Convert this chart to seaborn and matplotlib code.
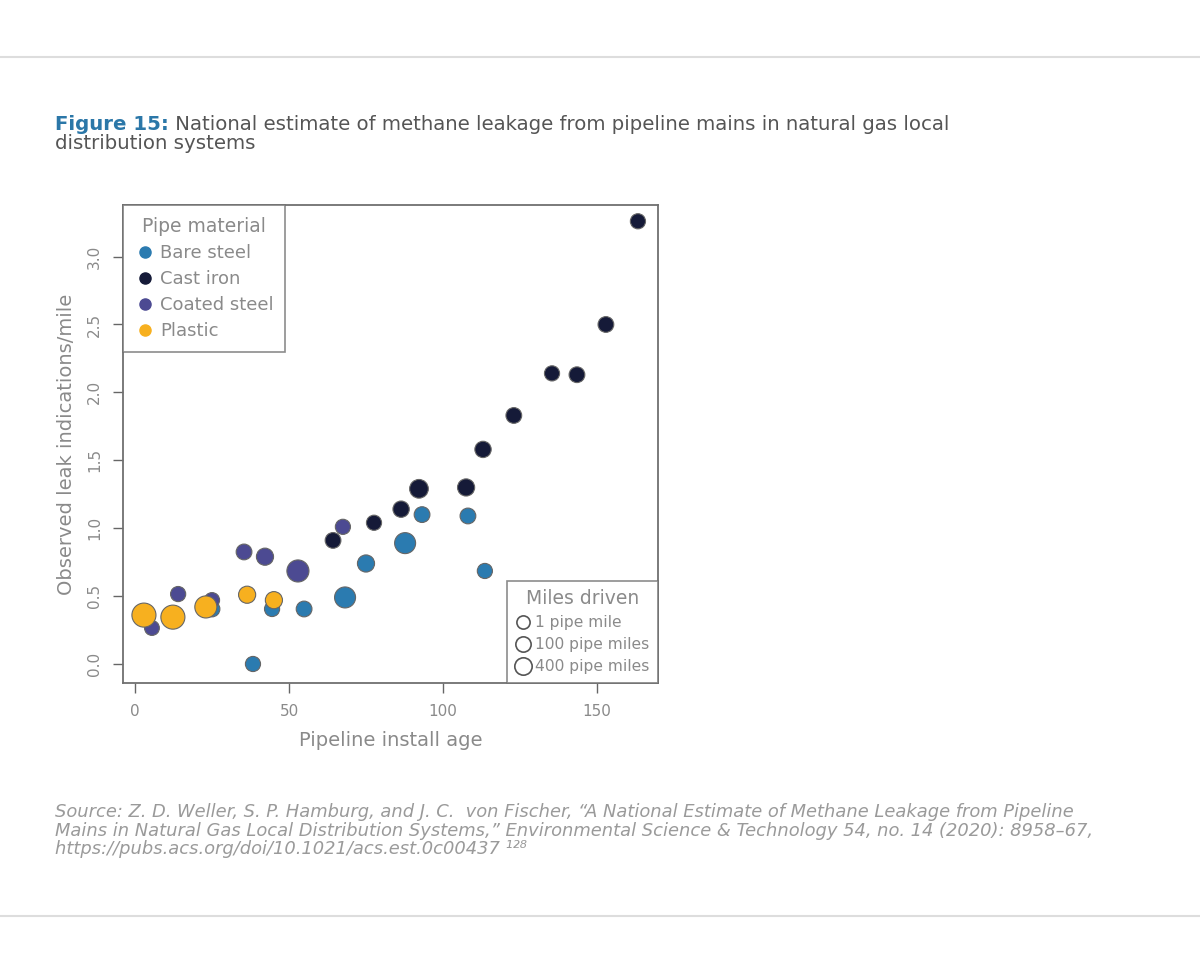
import numpy as np
import pandas as pd
import seaborn as sns
from matplotlib import pyplot as plt
from matplotlib.lines import Line2D

# values
bare_age = [93.2, 108.1, 87.7, 75.0, 113.6, 68.2, 54.9, 44.5, 25.0, 38.3]
bare_leak = [1.10, 1.09, 0.89, 0.74, 0.685, 0.49, 0.405, 0.405, 0.405, 0.0]
bare_miles = [40, 40, 250, 90, 20, 250, 40, 20, 40, 20]

cast_age = [163.3, 152.9, 135.4, 143.5, 123.0, 113.0, 107.5, 92.2, 86.4, 77.6, 64.3]
cast_leak = [3.26, 2.50, 2.14, 2.13, 1.83, 1.58, 1.30, 1.29, 1.14, 1.04, 0.91]
cast_miles = [20, 40, 20, 40, 40, 60, 90, 150, 60, 20, 40]

coat_age = [67.5, 35.4, 42.2, 52.9, 14.0, 25.0, 5.5]
coat_leak = [1.01, 0.825, 0.79, 0.685, 0.515, 0.47, 0.265]
coat_miles = [20, 40, 90, 300, 20, 20, 10]

plast_age = [2.9, 12.3, 23.0, 36.4, 45.1]
plast_leak = [0.36, 0.345, 0.42, 0.51, 0.47]
plast_miles = [400, 400, 300, 90, 90]

materials = ["Bare steel", "Cast iron", "Coated steel", "Plastic"]
colors = ["#2b7bb0", "#151a38", "#4c4a92", "#f7b01f"]
size_labels = ["1 pipe mile", "100 pipe miles", "400 pipe miles"]

df = pd.concat([
    pd.DataFrame({"age": bare_age, "leak": bare_leak, "miles": bare_miles, "material": "Bare steel"}),
    pd.DataFrame({"age": cast_age, "leak": cast_leak, "miles": cast_miles, "material": "Cast iron"}),
    pd.DataFrame({"age": coat_age, "leak": coat_leak, "miles": coat_miles, "material": "Coated steel"}),
    pd.DataFrame({"age": plast_age, "leak": plast_leak, "miles": plast_miles, "material": "Plastic"}),
], ignore_index=True)

sns.set_style("white")
plt.rcParams["font.family"] = ["DejaVu Sans"]
grey = "#8a8a8a"

fig = plt.figure(figsize=(12, 9.71), dpi=100)
ax = fig.add_axes([0.1025, 0.2966, 0.4458, 0.4923])

sns.scatterplot(data=df, x="age", y="leak", hue="material", size="miles",
                palette=dict(zip(materials, colors)), sizes=(110, 300), size_norm=(1, 400),
                edgecolor="#666666", linewidth=0.8, legend=False, ax=ax)

ax.set_xlim(-3.9, 169.8)
ax.set_ylim(-0.14, 3.38)
ax.set_xticks([0, 50, 100, 150])
ax.set_yticks([0, 0.5, 1.0, 1.5, 2.0, 2.5, 3.0])
ax.set_yticklabels(["0.0", "0.5", "1.0", "1.5", "2.0", "2.5", "3.0"], rotation=90, va="center")
ax.tick_params(axis="both", direction="out", length=7, width=1, color="#666666",
               labelcolor=grey, labelsize=11, pad=8, bottom=True, left=True)
for s in ax.spines.values():
    s.set_color("#707070")
    s.set_linewidth(1.3)
ax.set_xlabel("Pipeline install age", fontsize=14, color=grey, labelpad=9)
ax.set_ylabel("Observed leak indications/mile", fontsize=14, color=grey, labelpad=8)

h1 = [Line2D([], [], marker="o", ls="", markersize=8, markerfacecolor=c, markeredgecolor=c)
      for c in colors]
leg1 = ax.legend(h1, materials, title="Pipe material", loc="upper left", frameon=True,
                 fancybox=False, edgecolor="#707070", fontsize=13, title_fontsize=13.5,
                 borderaxespad=0, handletextpad=0.3, labelspacing=0.45, borderpad=0.65,
                 handlelength=1.1)
leg1.get_frame().set_linewidth(1.2)
for t in leg1.get_texts():
    t.set_color(grey)
leg1.get_title().set_color(grey)
ax.add_artist(leg1)

h2 = [Line2D([], [], marker="o", ls="", markersize=m, markerfacecolor="white",
             markeredgecolor="#555555", markeredgewidth=1.2) for m in [9.5, 11, 12.5]]
leg2 = ax.legend(h2, size_labels, title="Miles driven", loc="lower right", frameon=True,
                 fancybox=False, edgecolor="#707070", fontsize=11.2, title_fontsize=13.5,
                 borderaxespad=0, handletextpad=0.25, labelspacing=0.45, borderpad=0.55,
                 handlelength=1.0)
leg2.get_frame().set_linewidth(1.2)
for t in leg2.get_texts():
    t.set_color(grey)
leg2.get_title().set_color(grey)

# title
t1 = fig.text(55 / 1200, 1 - 130 / 971, "Figure 15:", fontsize=14.2, fontweight="bold",
              color="#2b77a8", va="baseline")
ax.annotate(" National estimate of methane leakage from pipeline mains in natural gas local",
            xy=(1, 0), xycoords=t1, va="bottom", fontsize=14.2, color="#555555")
fig.text(55 / 1200, 1 - 149 / 971, "distribution systems", fontsize=14.2, color="#555555",
         va="baseline")

src = ("Source: Z. D. Weller, S. P. Hamburg, and J. C.  von Fischer, \u201cA National Estimate of Methane Leakage from Pipeline\n"
       "Mains in Natural Gas Local Distribution Systems,\u201d Environmental Science & Technology 54, no. 14 (2020): 8958\u201367,\n"
       "https://pubs.acs.org/doi/10.1021/acs.est.0c00437 \u00b9\u00b2\u2078")
fig.text(55 / 1200, 1 - 803 / 971, src, fontsize=12.85, style="italic", color="#9a9a9a",
         va="top", linespacing=1.05)

fig.add_artist(Line2D([0, 1], [1 - 57 / 971] * 2, color="#dddddd", lw=1.5))
fig.add_artist(Line2D([0, 1], [1 - 916 / 971] * 2, color="#dddddd", lw=1.5))

fig.savefig("out.png", dpi=100)
